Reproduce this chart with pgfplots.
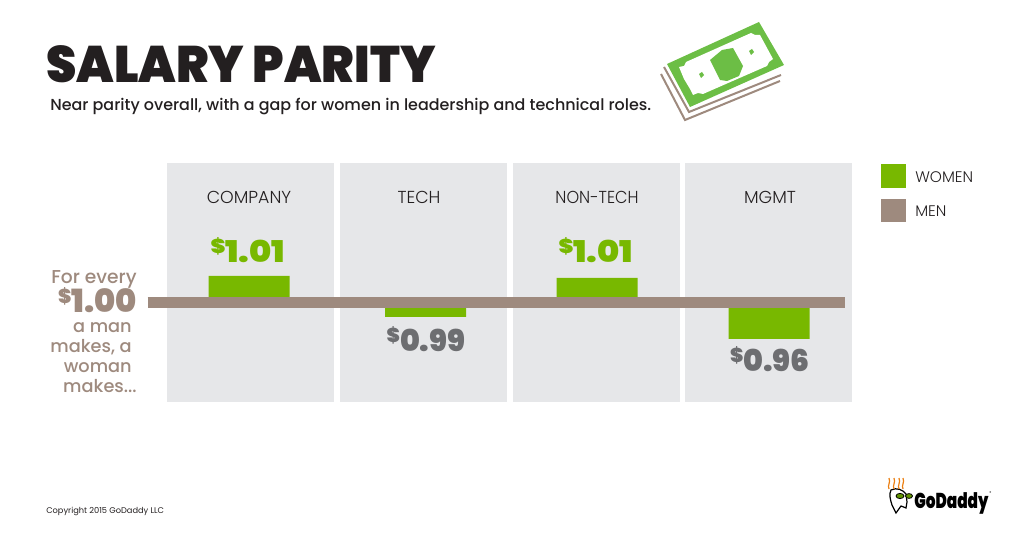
\documentclass[border=0pt]{standalone}
\usepackage{fontspec}
\usepackage{pgfplots}
\pgfplotsset{compat=1.18}
\setmainfont{Poppins}
\newfontfamily\heavy{Poppins Black}
\newfontfamily\medium{Poppins Medium}
\newfontfamily\light{Poppins Light}
\definecolor{ink}{HTML}{231F20}
\definecolor{panel}{HTML}{E6E7E9}
\definecolor{women}{HTML}{78B800}
\definecolor{men}{HTML}{9E8A7E}
\definecolor{low}{HTML}{6D6E71}
\definecolor{bill}{HTML}{6CBE45}
\newcommand{\amount}[1]{{\heavy\raisebox{.3em}{\fontsize{15}{15}\selectfont\$}#1}}
\begin{document}
\begin{tikzpicture}
\path[use as bounding box] (0,0) rectangle (768pt,401.25pt);
% x and y are reference pixels; y is measured upwards from the men's line.
% Bar lengths are as drawn in the graphic, which is not to scale with the printed amounts.
\begin{axis}[
    at={(0,0)}, anchor=south west,
    scale only axis, width=768pt, height=401.25pt,
    xmin=0, xmax=1024, ymin=-232.5, ymax=302.5,
    hide axis, clip=false,
]
% panels
\addplot[draw=none, fill=panel] coordinates {(167,139.5)(334,139.5)(334,-99.5)(167,-99.5)} --cycle;
\addplot[draw=none, fill=panel] coordinates {(340,139.5)(507,139.5)(507,-99.5)(340,-99.5)} --cycle;
\addplot[draw=none, fill=panel] coordinates {(513,139.5)(680,139.5)(680,-99.5)(513,-99.5)} --cycle;
\addplot[draw=none, fill=panel] coordinates {(685,139.5)(852,139.5)(852,-99.5)(685,-99.5)} --cycle;
% women, relative to the line
\addplot[ybar, bar width=60.75pt, bar shift=0pt, draw=none, fill=women] coordinates {
(249,26.5)
(425.5,-14.5)
(597,24.5)
(769,-36.5)
};
% men
\addplot[men, line width=8.25pt] coordinates {(147.5,0)(845,0)};
% legend keys
\addplot[draw=none, fill=women] coordinates {(881,138.5)(906,138.5)(906,114.5)(881,114.5)} --cycle;
\addplot[draw=none, fill=men] coordinates {(881,103.5)(906,103.5)(906,80.5)(881,80.5)} --cycle;
\end{axis}
\begin{scope}[shift={(0,401.25pt)}, x=.75pt, y=-.75pt]
% title
\node[anchor=base west, inner sep=0, ink, font=\heavy\fontsize{38.5}{38.5}\selectfont] at (46,83) {\scalebox{.947}[1]{SALARY PARITY}};
\node[anchor=base west, inner sep=0, ink, font=\medium\fontsize{11.95}{11.95}\selectfont] at (50,111) {Near parity overall, with a gap for women in leadership and technical roles.};
% panel heads
\foreach \x/\t in {249/COMPANY,419/TECH,770/MGMT}
  \node[anchor=base, inner sep=0, ink, font=\light\fontsize{13}{13}\selectfont] at (\x,204) {\t};
\node[anchor=base, inner sep=0, ink, font=\light\fontsize{13}{13}\selectfont] at (597,204) {\scalebox{.93}[1]{NON-TECH}};
% amounts
\node[anchor=base, inner sep=0, women, font=\fontsize{22.5}{22.5}\selectfont] at (248,263) {\scalebox{1.12}[1]{\amount{1.01}}};
\node[anchor=base, inner sep=0, low, font=\fontsize{22.5}{22.5}\selectfont] at (426,352) {\amount{0.99}};
\node[anchor=base, inner sep=0, women, font=\fontsize{22.5}{22.5}\selectfont] at (596,263) {\scalebox{1.12}[1]{\amount{1.01}}};
\node[anchor=base, inner sep=0, low, font=\fontsize{22.5}{22.5}\selectfont] at (770,372) {\amount{0.96}};
% legend text
\node[anchor=base west, inner sep=0, ink, font=\light\fontsize{11.5}{11.5}\selectfont] at (915,183) {WOMEN};
\node[anchor=base west, inner sep=0, ink, font=\light\fontsize{11.5}{11.5}\selectfont] at (915,217) {MEN};
% left note
\begin{scope}[men]
\node[anchor=base east, inner sep=0, font=\medium\fontsize{14}{14}\selectfont] at (137,284) {For every};
\node[anchor=base east, inner sep=0, font=\fontsize{24}{24}\selectfont] at (137,313) {\amount{1.00}};
\node[anchor=base east, inner sep=0, font=\medium\fontsize{13.3}{13.3}\selectfont] at (132,333) {a man};
\node[anchor=base east, inner sep=0, font=\medium\fontsize{13.3}{13.3}\selectfont] at (132,353) {makes, a};
\node[anchor=base east, inner sep=0, font=\medium\fontsize{13.3}{13.3}\selectfont] at (132,373) {woman};
\node[anchor=base east, inner sep=0, font=\medium\fontsize{13.3}{13.3}\selectfont] at (137,393) {makes...};
\end{scope}
% copyright
\node[anchor=base west, inner sep=0, ink, font=\fontsize{6.2}{6.2}\selectfont] at (46,514) {Copyright 2015 GoDaddy LLC};
% bill
\draw[men, line width=1.5pt, line join=miter] (664,67) -- (689,112) -- (781,75);
\draw[men, line width=1.5pt, line join=miter] (661,74) -- (685,120) -- (780,81);
\fill[bill] (667,64) -- (759,22) -- (784,65) -- (690,107) -- cycle;
\fill[white] (679,67) -- (684,66) -- (686,62) -- (751,33) -- (755,35) -- (760,35)
  -- (773,59) -- (769,62) -- (767,66) -- (703,94) -- (698,93) -- (693,95) -- (690,89) -- (684,79) -- cycle;
\fill[bill] (710,60) -- (722,50) -- (733,48) -- (743,66) -- (739,76) -- (727,81) -- (720,80) -- cycle;
\fill[bill] (699,74) -- (702,72) -- (704,75) -- (701,78) -- cycle;
\fill[bill] (749,51) -- (752,49) -- (754,52) -- (751,55) -- cycle;
% logo
\draw[black, line width=.9pt, fill=white] (891,490) .. controls (897,487) and (903,490) .. (906,494)
  -- (907,502) -- (906,508) -- (901,506) -- (896,513) -- (892,505) .. controls (890,499) and (889,494) .. (891,490) -- cycle;
\foreach \x in {889,894,899,903}
  \draw[orange!70!brown, line width=.9pt] (\x,489) .. controls (\x-2,485) and (\x+2,483) .. (\x,478);
\fill[women!80!black] (900,496) ellipse (4 and 2.6);
\fill[women!80!black] (909,496) ellipse (3.5 and 2.4);
\draw[black, line width=.6pt] (900,496) ellipse (4 and 2.6) (909,496) ellipse (3.5 and 2.4);
\node[anchor=base west, inner sep=0, font=\heavy\fontsize{14}{14}\selectfont] at (914,509) {\scalebox{.82}[1.15]{GoDaddy}};
\node[anchor=base west, inner sep=0, font=\fontsize{3}{3}\selectfont] at (989,495) {®};
\end{scope}
\end{tikzpicture}
\end{document}
